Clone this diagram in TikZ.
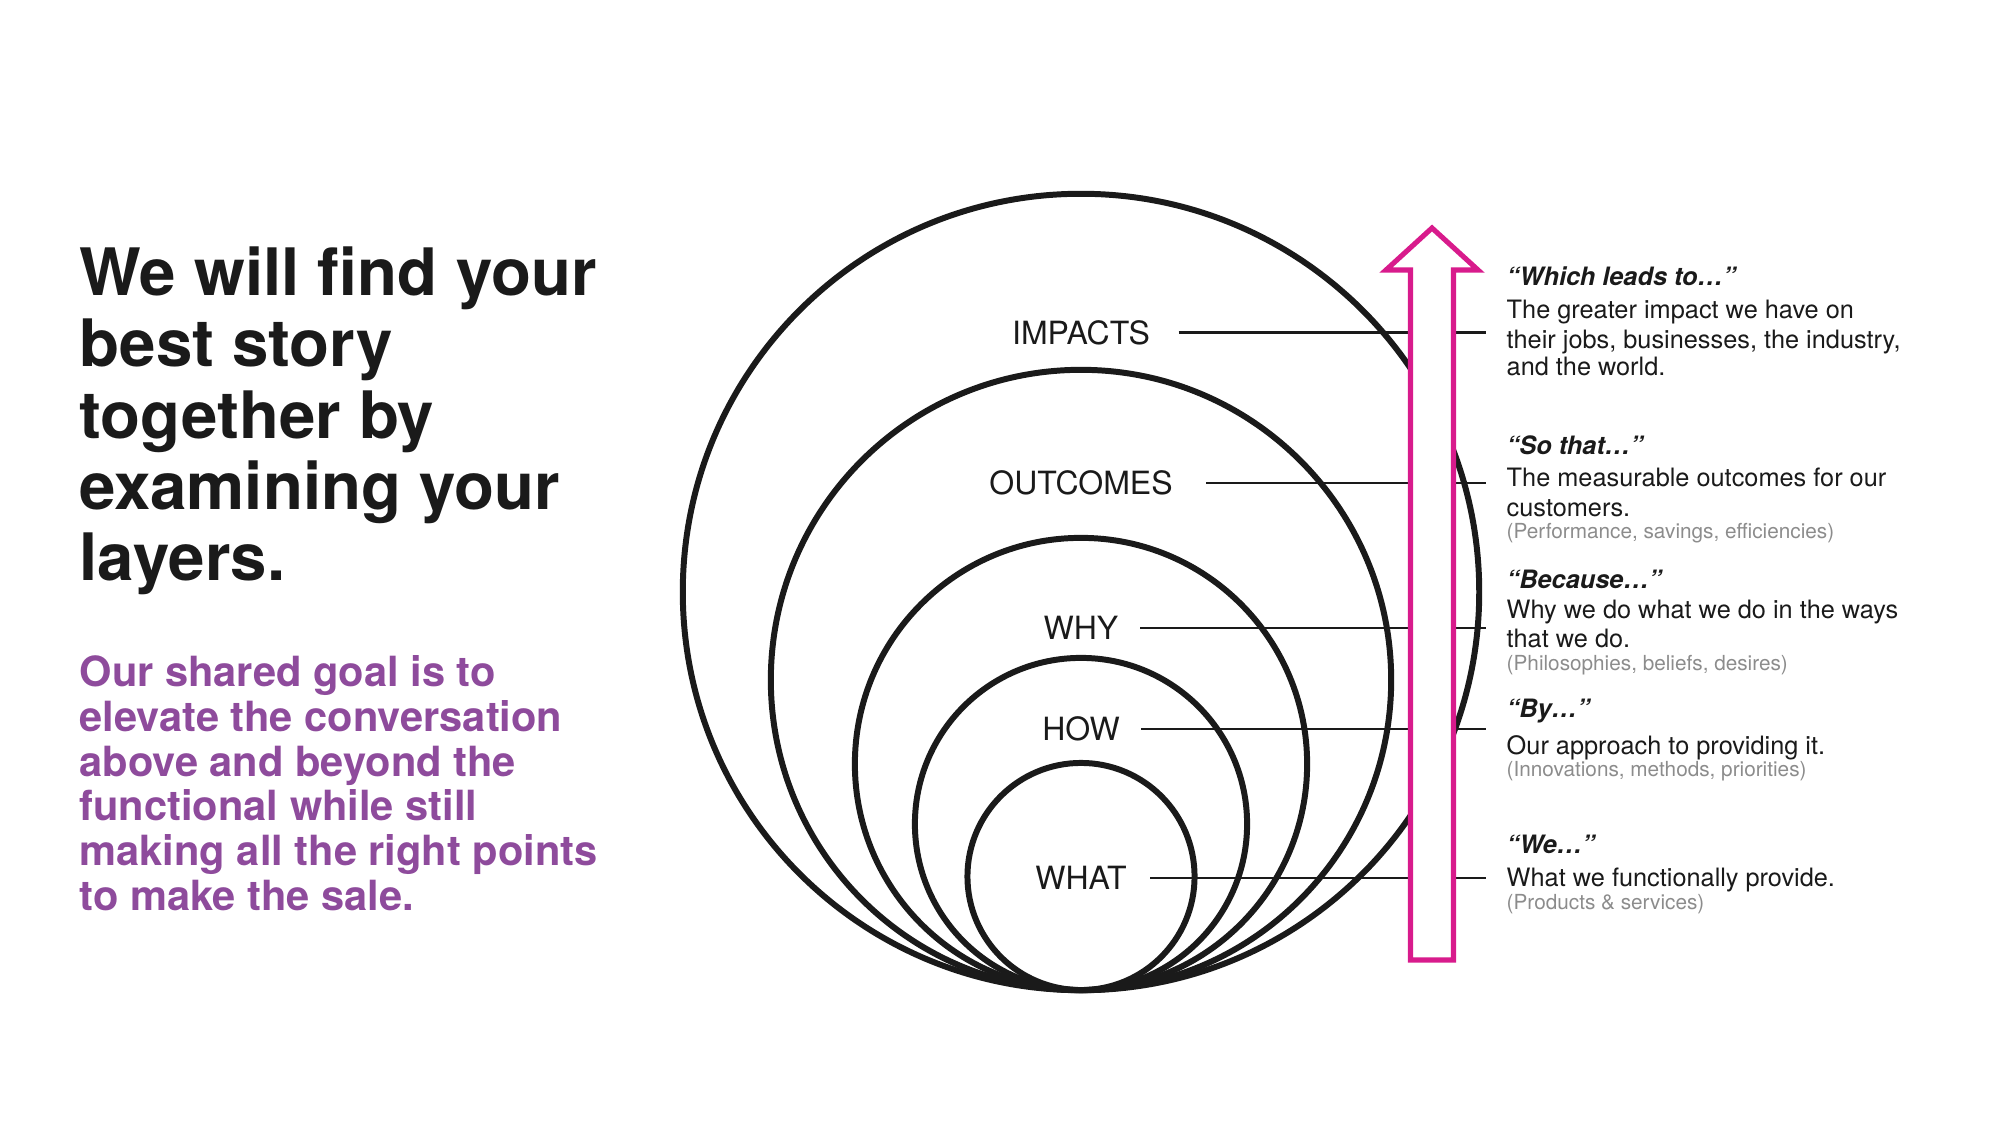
\documentclass[tikz,border=0pt]{standalone}
\usepackage{fontspec}
\setmainfont{TeX Gyre Heros}
\definecolor{headink}{HTML}{1A1A1A}
\definecolor{goalpurple}{HTML}{8E4B9C}
\definecolor{arrowpink}{HTML}{D81B8C}
\definecolor{notegray}{HTML}{8C8C8C}
\tikzset{
	layer/.style={line width=1.7pt, draw=headink},
	leader/.style={line width=0.85pt, draw=headink},
	layerlabel/.style={inner sep=0pt, text=headink, font=\fontsize{9.1}{11}\selectfont},
	note/.style={anchor=north west, inner sep=0pt, align=left, text=headink, font=\fontsize{7.2}{8.5}\selectfont},
	bigtext/.style={anchor=north west, inner sep=0pt, align=left},
}
\newcommand{\quotehead}[1]{{\bfseries\itshape #1}}
\newcommand{\aside}[1]{{\color{notegray}\fontsize{5.9}{6.8}\selectfont #1}}
\begin{document}
\begin{tikzpicture}[x=0.01cm,y=-0.01cm]
	\useasboundingbox (0,0) rectangle (2000,1125);

	%Heading and goal
	\node [bigtext, text=headink, font=\bfseries\fontsize{18.6}{20.3}\selectfont] (title) at (79,246)
	{We will find your\\best story\\together by\\examining your\\layers.};
	\node [bigtext, text=goalpurple, font=\bfseries\fontsize{11.83}{12.7}\selectfont] (goal) at (79,655)
	{Our shared goal is to\\elevate the conversation\\above and beyond the\\functional while still\\making all the right points\\to make the sale.};

	%Draw the layers, all touching at the bottom
	\draw [layer] (1081,592) circle [radius=3.98cm];
	\draw [layer] (1081,680) circle [radius=3.10cm];
	\draw [layer] (1081,764) circle [radius=2.26cm];
	\draw [layer] (1081,824) circle [radius=1.66cm];
	\draw [layer] (1081,876.5) circle [radius=1.135cm];

	%Layer labels
	\node [layerlabel] (impacts) at (1081,333) {IMPACTS};
	\node [layerlabel] (outcomes) at (1081,483) {OUTCOMES};
	\node [layerlabel] (why) at (1081,628) {WHY};
	\node [layerlabel] (how) at (1081,729) {HOW};
	\node [layerlabel] (what) at (1081,878) {WHAT};

	%Leader lines
	\coordinate (rim) at (1486,0);
	\draw [leader] ([xshift=0.28cm]impacts.east) -- (impacts.east -| rim);
	\draw [leader] ([xshift=0.33cm]outcomes.east) -- (outcomes.east -| rim);
	\draw [leader] ([xshift=0.21cm]why.east) -- (why.east -| rim);
	\draw [leader] ([xshift=0.21cm]how.east) -- (how.east -| rim);
	\draw [leader] ([xshift=0.23cm]what.east) -- (what.east -| rim);

	%Upward arrow
	\draw [line width=1.45pt, draw=arrowpink, fill=white, line join=miter]
	(1410.5,960) -- (1410.5,270) -- (1386,270) -- (1432,228) -- (1478,270)
	-- (1453.5,270) -- (1453.5,960) -- cycle;

	%Notes beside the arrow
	\node [note] (impnote) at (1506,266)
	{\quotehead{“Which leads to…”}\\[1pt]The greater impact we have on\\their jobs, businesses, the industry,\\[-0.8pt]and the world.};
	\node [note] (outnote) at (1506,435)
	{\quotehead{“So that…”}\\[0.5pt]The measurable outcomes for our\\customers.\\[-2pt]\aside{(Performance, savings, efficiencies)}};
	\node [note] (whynote) at (1506,569)
	{\quotehead{“Because…”}\\[0pt]Why we do what we do in the ways\\that we do.\\[-2pt]\aside{(Philosophies, beliefs, desires)}};
	\node [note] (hownote) at (1506,698)
	{\quotehead{“By…”}\\[2pt]Our approach to providing it.\\[-2pt]\aside{(Innovations, methods, priorities)}};
	\node [note] (whatnote) at (1506,834)
	{\quotehead{“We…”}\\[1pt]What we functionally provide.\\[-2pt]\aside{(Products \& services)}};
\end{tikzpicture}
\end{document}
